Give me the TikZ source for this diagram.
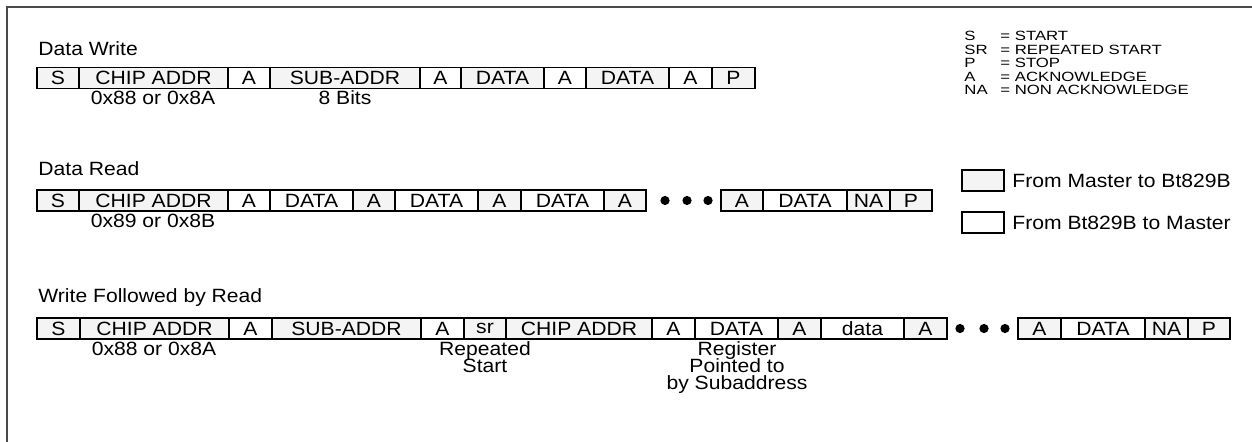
\documentclass[tikz,border=0pt]{standalone}
\usepackage{fontspec}
\setmainfont{Liberation Sans}[FakeStretch=1.1]
\newfontfamily\keyfont{Liberation Sans}[FakeStretch=1.25]
\usepackage{xcolor}
\usepackage{tikz}
\usetikzlibrary{positioning}
\definecolor{mastergray}{HTML}{F4F4F4}
\definecolor{framegray}{HTML}{4A4A4A}
\newcommand{\mainsz}{\fontsize{9.6}{8.5}\selectfont\lineskiplimit=-20pt}
\newcommand{\keysz}{\keyfont\fontsize{6.7}{8}\selectfont}
\tikzset{
  cell/.style={draw,anchor=west,minimum height=10.5pt,inner sep=0pt,outer sep=0pt,line width=0.6pt,font=\mainsz},
  mst/.style={cell,fill=mastergray},
  slv/.style={cell,fill=white},
  dot/.style={circle,fill=black,inner sep=0pt,minimum size=4.6pt},
  ttl/.style={anchor=base west,inner sep=0pt,font=\mainsz},
  lbl/.style={anchor=base,inner sep=0pt,align=center,font=\mainsz},
  lbltop/.style={anchor=north,inner sep=0pt,align=center,font=\mainsz},
  keytxt/.style={anchor=base west,inner sep=0pt,font=\keysz},
}

\begin{document}
\begin{tikzpicture}[x=0.5pt,y=-0.5pt]
\useasboundingbox (0,0) rectangle (1252,442);
\draw[framegray,line width=1pt] (7,442) -- (7,7) -- (1252,7);

\node[ttl] (twrite) at (38,56) {Data Write};
\foreach \x/\w/\t/\s [count=\i] in {37/42/S/mst,79/149/CHIP ADDR/mst,228/42/A/slv,270/150/SUB-ADDR/mst,
  420/41/A/slv,461/83/DATA/mst,544/42/A/slv,586/83/DATA/mst,669/43/A/slv,712/43/P/mst}
  \node[\s,minimum width=\w*0.5pt] (w\i) at (\x,78) {\t};
\node[lbl] (waddr) at (153,105) {0x88 or 0x8A};
\node[lbl] (wbits) at (345,105) {8 Bits};

\node[ttl] (tread) at (38,176) {Data Read};
\foreach \x/\w/\t/\s [count=\i] in {37/42/S/mst,79/149/CHIP ADDR/mst,228/42/A/slv,270/83/DATA/slv,
  353/42/A/mst,395/83/DATA/slv,478/43/A/mst,521/83/DATA/slv,604/42/A/mst,
  721/42/A/mst,763/84/DATA/slv,847/43/NA/mst,890/42/P/mst}
  \node[\s,minimum width=\w*0.5pt] (r\i) at (\x,200.5) {\t};
\foreach \x [count=\i] in {665,687,708}
  \node[dot] (rdot\i) at (\x,200.5) {};
\node[lbl] (raddr) at (153,228) {0x89 or 0x8B};

\node[ttl] (twr) at (38,303) {Write Followed by Read};
\foreach \x/\w/\t/\s [count=\i] in {37/43/S/mst,80/149/CHIP ADDR/mst,229/43/A/slv,272/149/SUB-ADDR/mst,
  421/43/A/slv,464/42/sr/mst,506/146/CHIP ADDR/mst,652/43/A/slv,695/83/DATA/slv,778/43/A/mst,
  821/83/data/slv,904/43/A/mst,1018/43/A/mst,1061/84/DATA/slv,1145/43/NA/mst,1188/42/P/mst}
  \node[\s,minimum width=\w*0.5pt] (f\i) at (\x,328.5) {\t};
\foreach \x [count=\i] in {960,984,1005}
  \node[dot] (fdot\i) at (\x,328.5) {};
\node[lbl] (faddr) at (154,356) {0x88 or 0x8A};
\node[lbltop] (frep) at (485,341) {Repeated\\Start};
\node[lbltop] (freg) at (737,341) {Register\\Pointed to\\by Subaddress};

\foreach \k/\v [count=\i] in {S/= START,SR/= REPEATED START,P/= STOP,A/= ACKNOWLEDGE,NA/= NON ACKNOWLEDGE}{
  \node[keytxt] (ks\i) at (964,27+13.6*\i) {\k};
  \node[keytxt] (kv\i) at (1000,27+13.6*\i) {\v};
}
\node[mst,minimum width=21pt] (kmst) at (962,180.5) {};
\node[anchor=west,inner sep=0pt,font=\mainsz] (kmsttxt) at (1012,180.5) {From Master to Bt829B};
\node[slv,minimum width=21pt] (kslv) at (962,222.5) {};
\node[anchor=west,inner sep=0pt,font=\mainsz] (kslvtxt) at (1012,222.5) {From Bt829B to Master};
\end{tikzpicture}
\end{document}
